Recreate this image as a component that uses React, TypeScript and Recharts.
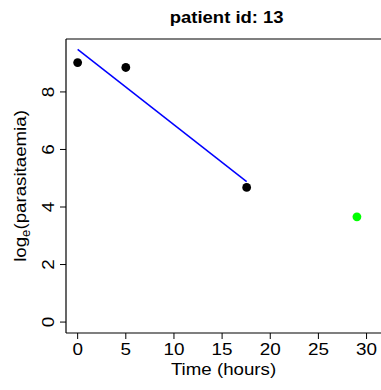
import React from 'react';
import { ComposedChart, Scatter, XAxis, YAxis, ReferenceLine } from 'recharts';

// observed parasitaemia (log scale)
const obsTime = [0, 5, 17.55];
const obsLogP = [9.02, 8.85, 4.68];
// point excluded from the fit (green)
const exclTime = [29.0];
const exclLogP = [3.66];
// fitted clearance line
const fitTime = [0, 17.55];
const fitLogP = [9.48, 4.88];

const xTicks = [0, 5, 10, 15, 20, 25, 30];
const yTicks = [0, 2, 4, 6, 8];
const X_DOMAIN: [number, number] = [-1.21, 31.5];
const Y_DOMAIN: [number, number] = [-0.38, 9.84];

const FONT = '"Liberation Sans", Arial, Helvetica, sans-serif';

const obsData = obsTime.map((t, i) => ({ x: t, y: obsLogP[i] }));
const exclData = exclTime.map((t, i) => ({ x: t, y: exclLogP[i] }));
const fitData = fitTime.map((t, i) => ({ x: t, y: fitLogP[i] }));

const XTick = ({ x, y, payload }: any) => (
  <text
    transform={`translate(${x},${y + 14}) scale(1.18,1)`}
    textAnchor="middle"
    fontFamily={FONT}
    fontSize={16}
    fill="#000"
  >
    {payload.value}
  </text>
);

const YTick = ({ y, payload }: any) => (
  <text
    transform={`translate(53.5,${y}) rotate(-90) scale(1.18,1)`}
    textAnchor="middle"
    fontFamily={FONT}
    fontSize={16}
    fill="#000"
  >
    {payload.value}
  </text>
);

const XLabel = ({ viewBox }: any) => (
  <text
    transform={`translate(${viewBox.x + viewBox.width / 2},375) scale(1.1,1)`}
    textAnchor="middle"
    fontFamily={FONT}
    fontSize={17}
    fill="#000"
  >
    Time (hours)
  </text>
);

const YLabel = ({ viewBox }: any) => (
  <text
    transform={`translate(26,${viewBox.y + viewBox.height / 2}) rotate(-90) scale(1.1,1)`}
    textAnchor="middle"
    fontFamily={FONT}
    fontSize={17}
    fill="#000"
  >
    log
    <tspan fontSize={12} dy={4}>e</tspan>
    <tspan dy={-4}>(parasitaemia)</tspan>
  </text>
);

const dot = (color: string) => (p: any) => <circle cx={p.cx} cy={p.cy} r={4.4} fill={color} />;

export default function App() {
  return (
    <div style={{ position: 'absolute', left: 0, top: 0, width: 381, height: 390, background: '#fff' }}>
      <svg width={381} height={390} style={{ position: 'absolute', left: 0, top: 0 }}>
        <text
          transform="translate(226.7,23.3) scale(1.1,1)"
          textAnchor="middle"
          fontFamily={FONT}
          fontWeight="bold"
          fontSize={16.8}
          fill="#000"
        >
          patient id: 13
        </text>
      </svg>
      <div style={{ position: 'absolute', left: 0, top: 0 }}>
        <ComposedChart width={381} height={390} margin={{ top: 39, right: 0, bottom: 0, left: 0 }}>
          <XAxis
            type="number"
            dataKey="x"
            domain={X_DOMAIN}
            ticks={xTicks}
            allowDataOverflow
            height={57}
            tickSize={6}
            axisLine={{ stroke: '#000', strokeWidth: 1.2 }}
            tickLine={{ stroke: '#000' }}
            tick={<XTick />}
            label={<XLabel />}
          />
          <YAxis
            type="number"
            dataKey="y"
            domain={Y_DOMAIN}
            ticks={yTicks}
            allowDataOverflow
            width={66}
            tickSize={6}
            axisLine={{ stroke: '#000', strokeWidth: 1.2 }}
            tickLine={{ stroke: '#000' }}
            tick={<YTick />}
            label={<YLabel />}
          />
          <ReferenceLine y={Y_DOMAIN[1]} stroke="#000" strokeWidth={1.2} />
          <Scatter
            data={fitData}
            dataKey="y"
            line={{ stroke: '#0000ff', strokeWidth: 1.5 }}
            shape={() => <g />}
            isAnimationActive={false}
          />
          <Scatter data={obsData} dataKey="y" shape={dot('#000')} isAnimationActive={false} />
          <Scatter data={exclData} dataKey="y" shape={dot('#00ff00')} isAnimationActive={false} />
        </ComposedChart>
      </div>
    </div>
  );
}
